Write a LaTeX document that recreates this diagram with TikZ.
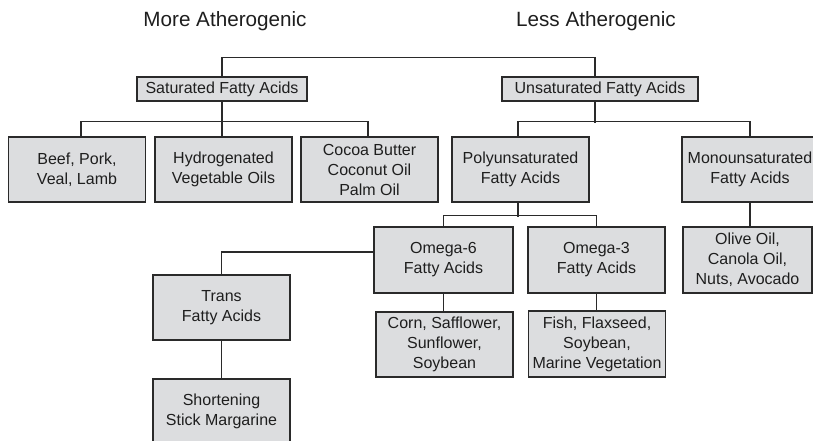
\documentclass[tikz,border=0pt]{standalone}
\usepackage{fontspec}
\setmainfont{Liberation Sans}
\usetikzlibrary{calc}
\definecolor{ink}{HTML}{1E1E1E}
\definecolor{line}{HTML}{2A2A2A}
\definecolor{panel}{HTML}{DCDDDF}

\begin{document}
\begin{tikzpicture}[
  x=.75pt,y=-.75pt,
  text=ink,
  link/.style={draw=line,line width=.9pt},
  label/.style={font=\fontsize{15.5}{18}\selectfont},
  box/.style={draw=line,fill=panel,line width=.9pt,align=center,inner sep=0pt,
    minimum width=102.75pt,minimum height=48.75pt,
    font=\fontsize{12}{15}\selectfont},
  bar/.style={box,minimum height=18pt}
]
  \useasboundingbox (0,0) rectangle (813,441);
  \clip (0,0) rectangle (813,441);

  \node[label] (more) at (225,21) {More Atherogenic};
  \node[label] (less) at (596,21) {Less Atherogenic};

  \node[bar,minimum width=127.5pt] (sat) at (222,89) {Saturated Fatty Acids};
  \node[bar,minimum width=147pt] (unsat) at (600,89) {Unsaturated Fatty Acids};

  \node[box] (beef) at (77,169.5) {Beef, Pork,\\Veal, Lamb};
  \node[box] (hydro) at (223.5,169.5) {Hydrogenated\\Vegetable Oils};
  \node[box] (cocoa) at (369.5,169.5) {Cocoa Butter\\Coconut Oil\\Palm Oil};
  \node[box] (poly) at (520.5,169.5) {Polyunsaturated\\Fatty Acids};
  \node[box,minimum width=102pt] (mono) at (750,169.5) {Monounsaturated\\Fatty Acids};

  \node[box,minimum width=104.25pt,minimum height=49.5pt] (omsix) at (443.5,260) {Omega-6\\Fatty Acids};
  \node[box,minimum height=49.5pt] (omthree) at (596.5,260) {Omega-3\\Fatty Acids};
  \node[box,minimum width=96.75pt,minimum height=49.5pt] (olive) at (747.5,260) {Olive Oil,\\Canola Oil,\\Nuts, Avocado};

  \node[box] (trans) at (221.5,307.5) {Trans\\Fatty Acids};
  \node[box] (corn) at (444.5,344.5) {Corn, Safflower,\\Sunflower,\\Soybean};
  \node[box,minimum height=49.5pt] (fish) at (597,344) {Fish, Flaxseed,\\Soybean,\\Marine Vegetation};
  \node[box] (short) at (221.5,411.5) {Shortening\\Stick Margarine};

  % tree lines
  \draw[link] (sat.north) -- ++(0,-19) -| ($(unsat.north)+(-5,0)$);
  \draw[link] ($(beef.north)+(4,0)$) -- ++(0,-15) -| ($(cocoa.north)+(-1.5,0)$);
  \draw[link] (sat.south) -- (sat.south |- hydro.north);
  \draw[link] ($(unsat.south)+(-5,0)$) -- ++(0,21);
  \draw[link] ($(poly.north)+(-2.5,0)$) -- ++(0,-15) -| (mono.north);
  \draw[link] ($(poly.south)+(-2.5,0)$) -- ++(0,14);
  \draw[link] (omsix.north) -- ++(0,-11) -| (omthree.north);
  \draw[link] (mono.south) -- (mono.south |- olive.north);
  \draw[link] (omsix.south) -- (omsix.south |- corn.north);
  \draw[link] (omthree.south) -- (omthree.south |- fish.north);
  \draw[link] ($(omsix.west)+(0,-8)$) -| (trans.north);
  \draw[link] (trans.south) -- (short.north);
\end{tikzpicture}
\end{document}
